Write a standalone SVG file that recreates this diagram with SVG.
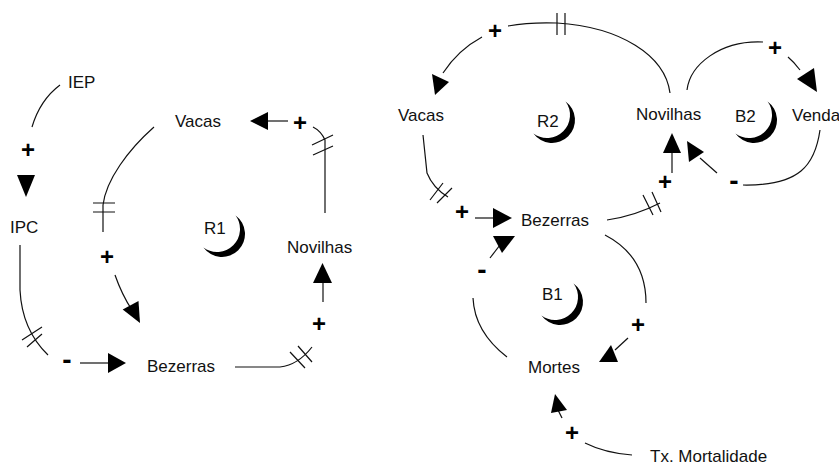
<svg xmlns="http://www.w3.org/2000/svg" width="839" height="466" viewBox="0 0 839 466">
<style>
.lbl{font-family:"Liberation Sans",Arial,sans-serif;font-size:17px;fill:#111}
.sg{font-family:"Liberation Sans",Arial,sans-serif;font-size:24px;font-weight:bold;fill:#000;text-anchor:middle}
.mn{font-family:"Liberation Sans",Arial,sans-serif;font-size:28px;font-weight:bold;fill:#000;text-anchor:middle}
.ln{fill:none;stroke:#111;stroke-width:1.2}
.ah{fill:#000;stroke:none}
.moon{fill:#000}
</style>
<defs>
  <path id="moon" d="M16.07,-16.07 A23,23 0 1,1 -16.07,16.07 A23,23 0 0,0 16.07,-16.07 Z"/>
</defs>
<rect width="839" height="466" fill="#fff"/>
<g id="connectors">
  <!-- IEP -> IPC -->
  <path class="ln" d="M60,85 Q40,100 32,127"/>
  <polygon class="ah" points="17,175 35,175 26,197"/>
  <!-- Vacas -> Bezerras (left) -->
  <path class="ln" d="M154,127 C128,150 106,180 103,205 L103,232"/>
  <path class="ln" d="M93,203 L115,203 M93,212 L115,212"/>
  <path class="ln" d="M115,275 Q122,295 132,310"/>
  <polygon class="ah" points="140,323 138.5,301 122.7,309.6"/>
  <!-- IPC -> Bezerras (left) -->
  <path class="ln" d="M20,245 L20,290 Q22,330 48,355"/>
  <path class="ln" d="M22,340 L42,327 M27,347 L42,334"/>
  <path class="ln" d="M80,363 L108,363"/>
  <polygon class="ah" points="108,353 108,373 126,363"/>
  <!-- Bezerras -> Novilhas (left) -->
  <path class="ln" d="M235,367 L280,367 Q298,365 312,347"/>
  <path class="ln" d="M290,352 L305,368 M298,346 L312,362"/>
  <path class="ln" d="M323,302 L323,283"/>
  <polygon class="ah" points="313,283 332,283 322.5,263"/>
  <!-- Novilhas -> Vacas (left) -->
  <path class="ln" d="M325,213 L325,140 Q321,131 313,127"/>
  <path class="ln" d="M312,145 L333,135 M313,155 L333,146"/>
  <path class="ln" d="M268,121 L288,121"/>
  <polygon class="ah" points="250,121 268,112 268,130"/>
  <!-- Novilhas -> Vacas (right, top arc) -->
  <path class="ln" d="M670,93 C665,55 620,27 557,23 Q530,22 508,26"/>
  <path class="ln" d="M557,13 L557,35 M565,13 L565,35"/>
  <path class="ln" d="M482,37 Q458,50 443,73"/>
  <polygon class="ah" points="435,95 432,74 449,82"/>
  <!-- Vacas -> Bezerras (right) -->
  <path class="ln" d="M423,135 L427,173 Q433,188 448,197"/>
  <path class="ln" d="M430,200 L443,183 M437,203 L452,188"/>
  <path class="ln" d="M475,218 L494,218"/>
  <polygon class="ah" points="493,208 493,228 512,218"/>
  <!-- Bezerras -> Novilhas (right) -->
  <path class="ln" d="M607,220 Q635,216 660,203"/>
  <path class="ln" d="M643,195 L653,215 M652,192 L661,212"/>
  <path class="ln" d="M672,173 L672,153"/>
  <polygon class="ah" points="663,153 681,153 672,133"/>
  <!-- Novilhas -> Venda -->
  <path class="ln" d="M687,90 C690,65 720,40 763,42"/>
  <path class="ln" d="M788,57 Q794,62 800,70"/>
  <polygon class="ah" points="817,92 797,79 814,68"/>
  <!-- Venda -> Novilhas -->
  <path class="ln" d="M820,130 C815,165 800,186 743,185"/>
  <path class="ln" d="M717,173 L700,158"/>
  <polygon class="ah" points="687,141 689,162 704,152"/>
  <!-- Bezerras -> Mortes -->
  <path class="ln" d="M605,235 C630,248 646,270 646,303"/>
  <path class="ln" d="M628,338 L615,350"/>
  <polygon class="ah" points="599,362 611,345 618,362"/>
  <!-- Mortes -> Bezerras -->
  <path class="ln" d="M507,357 C485,340 474,320 473,298"/>
  <path class="ln" d="M490,258 L500,245"/>
  <polygon class="ah" points="493,236 515,236 502,253"/>
  <!-- Tx. Mortalidade -> Mortes -->
  <path class="ln" d="M632,455 Q605,453 585,443"/>
  <path class="ln" d="M562,418 L558,410"/>
  <polygon class="ah" points="555,394 551,413 567,410"/>
</g>
<g id="polarities">
  <text class="sg" x="28" y="158">+</text>
  <text class="sg" x="300" y="131">+</text>
  <text class="sg" x="107" y="265">+</text>
  <text class="mn" x="67" y="369">-</text>
  <text class="sg" x="319" y="332">+</text>
  <text class="sg" x="495" y="39">+</text>
  <text class="sg" x="775" y="56">+</text>
  <text class="mn" x="734" y="190">-</text>
  <text class="sg" x="665" y="190">+</text>
  <text class="sg" x="462" y="220">+</text>
  <text class="mn" x="482" y="279">-</text>
  <text class="sg" x="638" y="333">+</text>
  <text class="sg" x="572" y="441">+</text>
</g>
<g id="IEP"><text class="lbl" x="68" y="88">IEP</text></g>
<g id="IPC"><text class="lbl" x="10" y="233">IPC</text></g>
<g id="Vacas1"><text class="lbl" x="175" y="127">Vacas</text></g>
<g id="Novilhas1"><text class="lbl" x="287" y="253">Novilhas</text></g>
<g id="Bezerras1"><text class="lbl" x="147" y="372">Bezerras</text></g>
<g id="R1">
  <text class="lbl" x="204" y="234">R1</text>
  <use href="#moon" class="moon" transform="translate(219.5,231.5)"/>
</g>
<g id="Vacas2"><text class="lbl" x="398" y="121">Vacas</text></g>
<g id="Novilhas2"><text class="lbl" x="636" y="120">Novilhas</text></g>
<g id="Venda"><text class="lbl" x="792" y="121">Venda</text></g>
<g id="Bezerras2"><text class="lbl" x="521" y="226">Bezerras</text></g>
<g id="Mortes"><text class="lbl" x="528" y="373">Mortes</text></g>
<g id="TxMortalidade"><text class="lbl" x="650" y="462">Tx. Mortalidade</text></g>
<g id="R2">
  <text class="lbl" x="537" y="127">R2</text>
  <use href="#moon" class="moon" transform="translate(549.5,117.5)"/>
</g>
<g id="B2">
  <text class="lbl" x="735" y="122">B2</text>
  <use href="#moon" class="moon" transform="translate(751.5,117.5)"/>
</g>
<g id="B1">
  <text class="lbl" x="542" y="300">B1</text>
  <use href="#moon" class="moon" transform="translate(557.5,299.5)"/>
</g>
</svg>
